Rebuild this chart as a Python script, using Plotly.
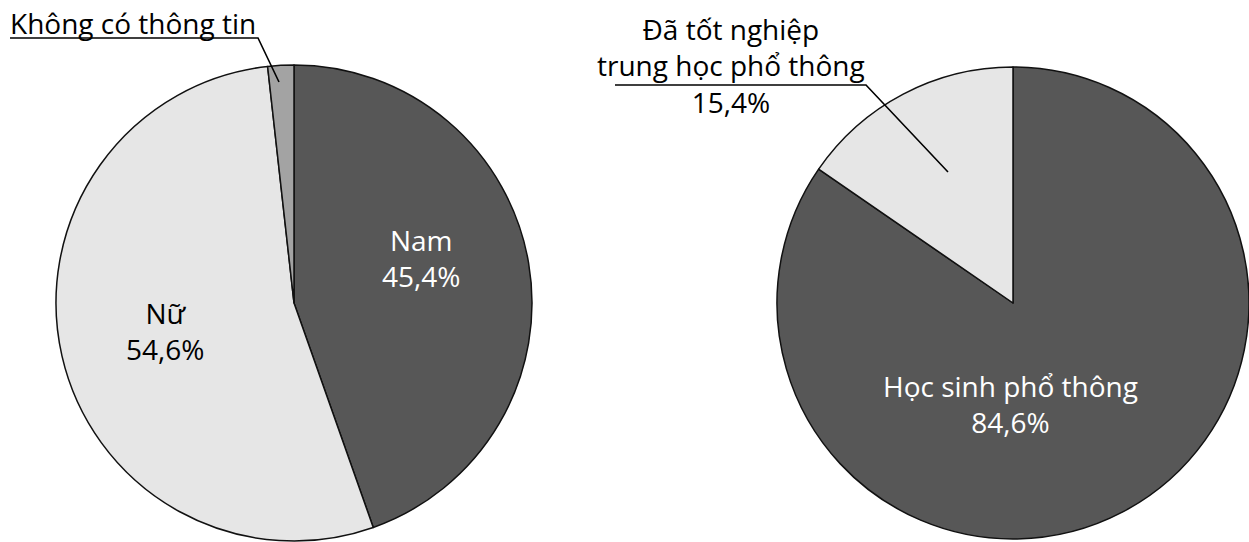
import plotly.graph_objects as go

# Giới tính
gender_labels = ["Nam", "Nữ", "Không có thông tin"]
gender_values = [45.4, 54.6, 1.8]
gender_colors = ["#575757", "#e6e6e6", "#a3a3a3"]

# Trình độ học vấn
edu_labels = ["Học sinh phổ thông", "Đã tốt nghiệp<br>trung học phổ thông"]
edu_values = [84.6, 15.4]
edu_colors = ["#575757", "#e6e6e6"]

W, H = 1249, 542
FONT = "Open Sans"
FS = 28


def px(x, y):
    """Pixel position (from top-left) -> paper coordinates."""
    return x / W, 1 - y / H


def pct(v):
    return f"{v:.1f}".replace(".", ",") + "%"


fig = go.Figure()

fig.add_trace(go.Pie(
    labels=gender_labels, values=gender_values, sort=False,
    direction="clockwise", rotation=0,
    marker=dict(colors=gender_colors, line=dict(color="#111111", width=1.5)),
    textinfo="none", hoverinfo="label+percent", showlegend=False,
    domain=dict(x=[56 / W, 532 / W], y=[1 - 541 / H, 1 - 65 / H]),
))

fig.add_trace(go.Pie(
    labels=edu_labels, values=edu_values, sort=False,
    direction="clockwise", rotation=0,
    marker=dict(colors=edu_colors, line=dict(color="#111111", width=1.5)),
    textinfo="none", hoverinfo="label+percent", showlegend=False,
    domain=dict(x=[777 / W, 1.0], y=[1 - 540 / H, 1 - 66 / H]),
))

annotations = []


def add_text(text, x, y, color, xanchor="center"):
    ax, ay = px(x, y)
    annotations.append(dict(
        text=text, x=ax, y=ay, xref="paper", yref="paper",
        xanchor=xanchor, yanchor="middle", align="center", showarrow=False,
        font=dict(family=FONT, size=FS, color=color),
    ))


# Nhãn bên trong các lát
add_text(f"{gender_labels[0]}<br>{pct(gender_values[0])}", 421, 258, "white")
add_text(f"{gender_labels[1]}<br>{pct(gender_values[1])}", 165, 331, "black")
add_text(f"{edu_labels[0]}<br>{pct(edu_values[0])}", 1010, 404, "white")

# Nhãn bên ngoài có đường dẫn
add_text(gender_labels[2], 8, 23, "black", xanchor="left")
add_text(f"{edu_labels[1]}<br>{pct(edu_values[1])}", 731, 65, "black")


def leader(points):
    pts = [px(x, y) for x, y in points]
    path = "M " + " L ".join(f"{x:.5f} {y:.5f}" for x, y in pts)
    return dict(type="path", path=path, xref="paper", yref="paper",
                line=dict(color="black", width=1.6))


shapes = [
    leader([(10, 38), (258, 38), (279, 82)]),
    leader([(615, 85), (866, 85), (948, 172)]),
]

fig.update_layout(
    width=W, height=H,
    margin=dict(l=0, r=0, t=0, b=0),
    paper_bgcolor="white", plot_bgcolor="white",
    annotations=annotations, shapes=shapes,
    font=dict(family=FONT),
)

fig.write_html("out.html")
